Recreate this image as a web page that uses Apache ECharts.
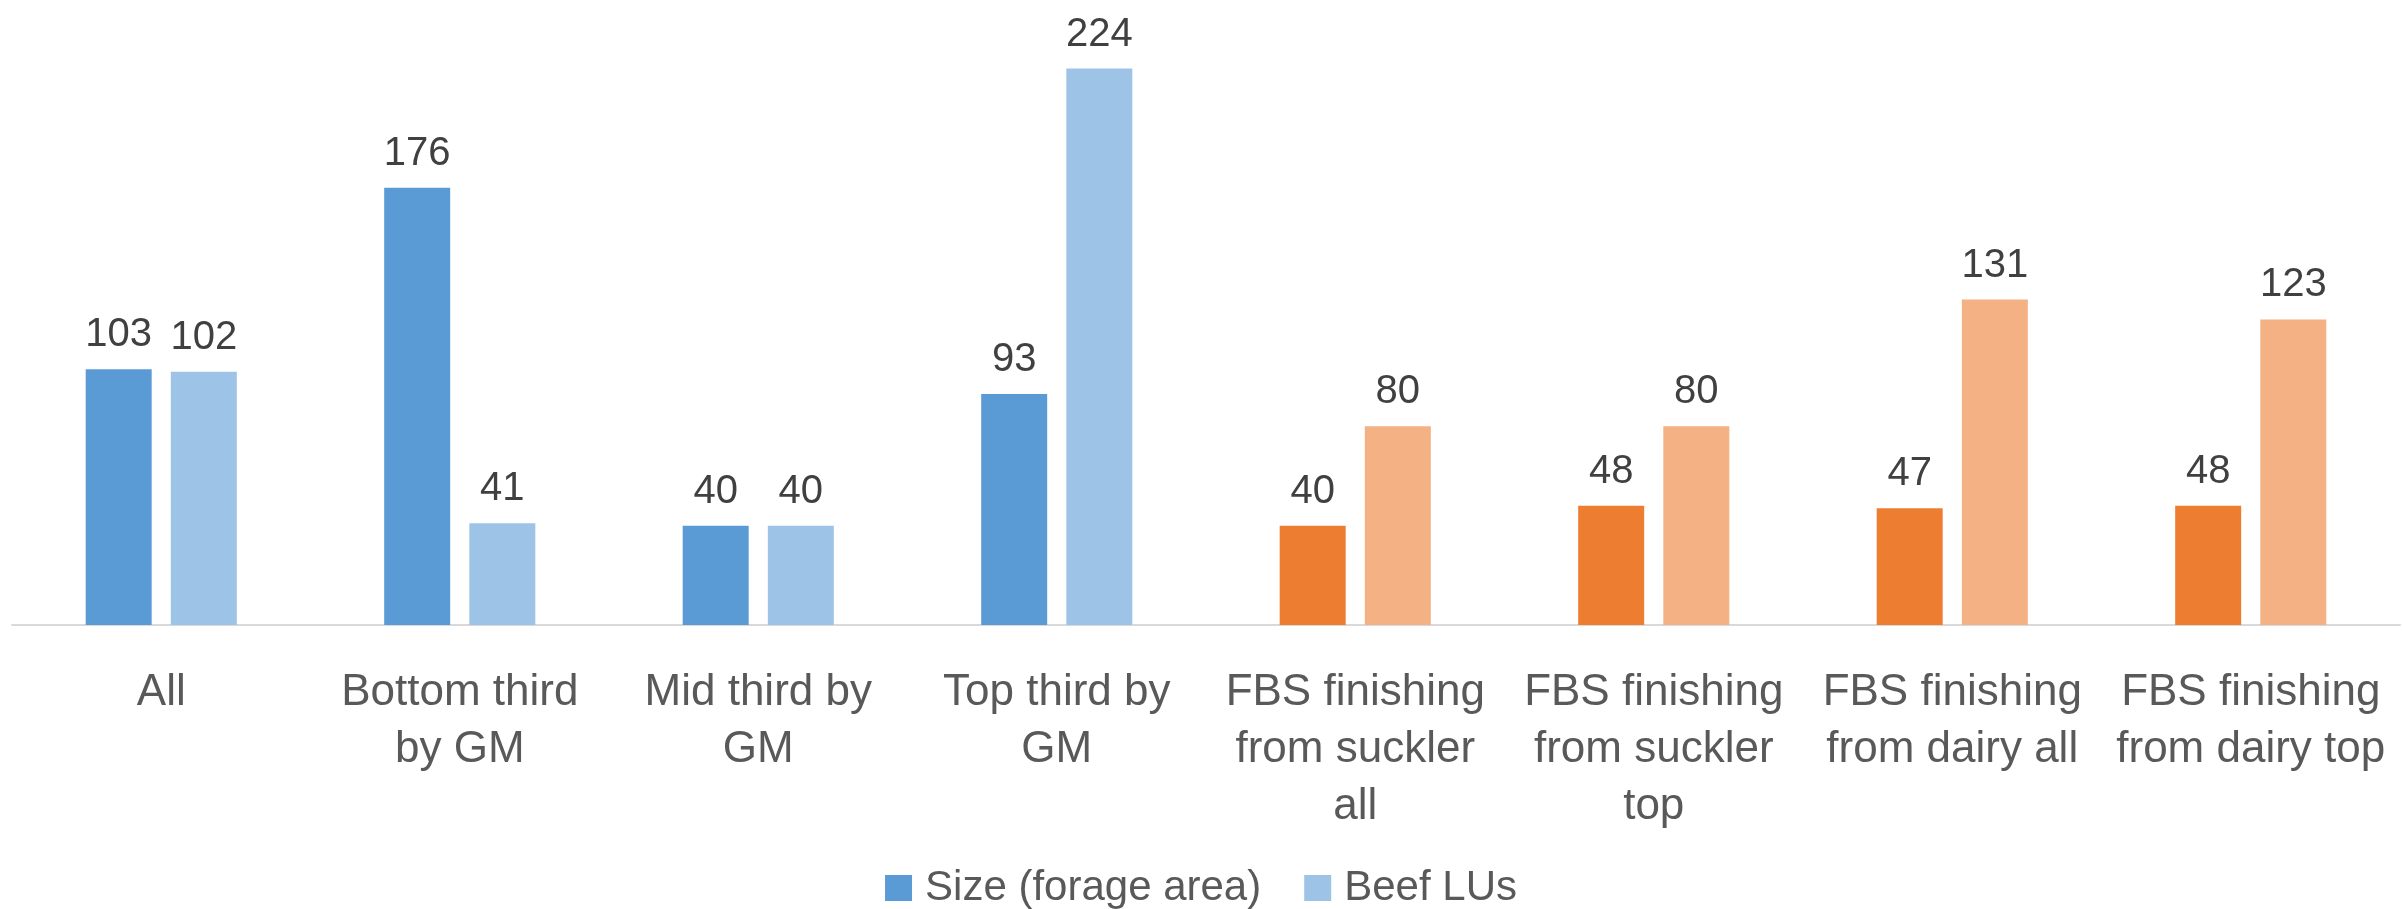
<!DOCTYPE html>
<html>
<head>
<meta charset="utf-8">
<script src="https://cdn.jsdelivr.net/npm/echarts@6/dist/echarts.min.js"></script>
<style>
  html, body { margin: 0; padding: 0; background: #fff; }
  #chart { width: 2402px; height: 909px; }
</style>
</head>
<body>
<div id="chart"></div>
<script>
const categories = [
  'All',
  'Bottom third\nby GM',
  'Mid third by\nGM',
  'Top third by\nGM',
  'FBS finishing\nfrom suckler\nall',
  'FBS finishing\nfrom suckler\ntop',
  'FBS finishing\nfrom dairy all',
  'FBS finishing\nfrom dairy top'
]
const sizeForage = [103, 176, 40, 93, 40, 48, 47, 48]
const beefLUs = [102, 41, 40, 224, 80, 80, 131, 123]

// first four groups are blue, the FBS ones orange
const darkColors = ['#5B9BD5', '#5B9BD5', '#5B9BD5', '#5B9BD5', '#ED7D31', '#ED7D31', '#ED7D31', '#ED7D31']
const lightColors = ['#9DC3E6', '#9DC3E6', '#9DC3E6', '#9DC3E6', '#F4B183', '#F4B183', '#F4B183', '#F4B183']

const font = '"Liberation Sans", Arial, sans-serif'

function withColors(values, colors) {
  return values.map((v, i) => ({ value: v, itemStyle: { color: colors[i] } }))
}

const chart = echarts.init(document.getElementById('chart'))

const labelStyle = {
  show: true,
  position: 'top',
  distance: 14,
  color: '#404040',
  fontFamily: font,
  fontSize: 40
}

chart.setOption({
  animation: false,
  textStyle: { fontFamily: font },
  grid: { left: 12, right: 2, top: 4, bottom: 284 },
  legend: {
    top: 862,
    left: 'center',
    itemWidth: 27,
    itemHeight: 26,
    itemGap: 43,
    icon: 'rect',
    textStyle: { color: '#595959', fontSize: 42, fontFamily: font, padding: [0, 0, 0, 8] },
    data: ['Size (forage area)', 'Beef LUs']
  },
  xAxis: {
    type: 'category',
    data: categories,
    axisTick: { show: false },
    axisLine: { lineStyle: { color: '#D9D9D9', width: 2 } },
    axisLabel: {
      color: '#595959',
      fontSize: 44,
      lineHeight: 57,
      margin: 39,
      interval: 0,
      fontFamily: font
    }
  },
  yAxis: {
    type: 'value',
    min: 0,
    max: 250,
    show: false
  },
  series: [
    {
      name: 'Size (forage area)',
      type: 'bar',
      color: '#5B9BD5',
      barWidth: 66,
      barGap: '29%',
      data: withColors(sizeForage, darkColors),
      label: labelStyle
    },
    {
      name: 'Beef LUs',
      type: 'bar',
      color: '#9DC3E6',
      barWidth: 66,
      data: withColors(beefLUs, lightColors),
      label: labelStyle
    }
  ]
})
</script>
</body>
</html>
